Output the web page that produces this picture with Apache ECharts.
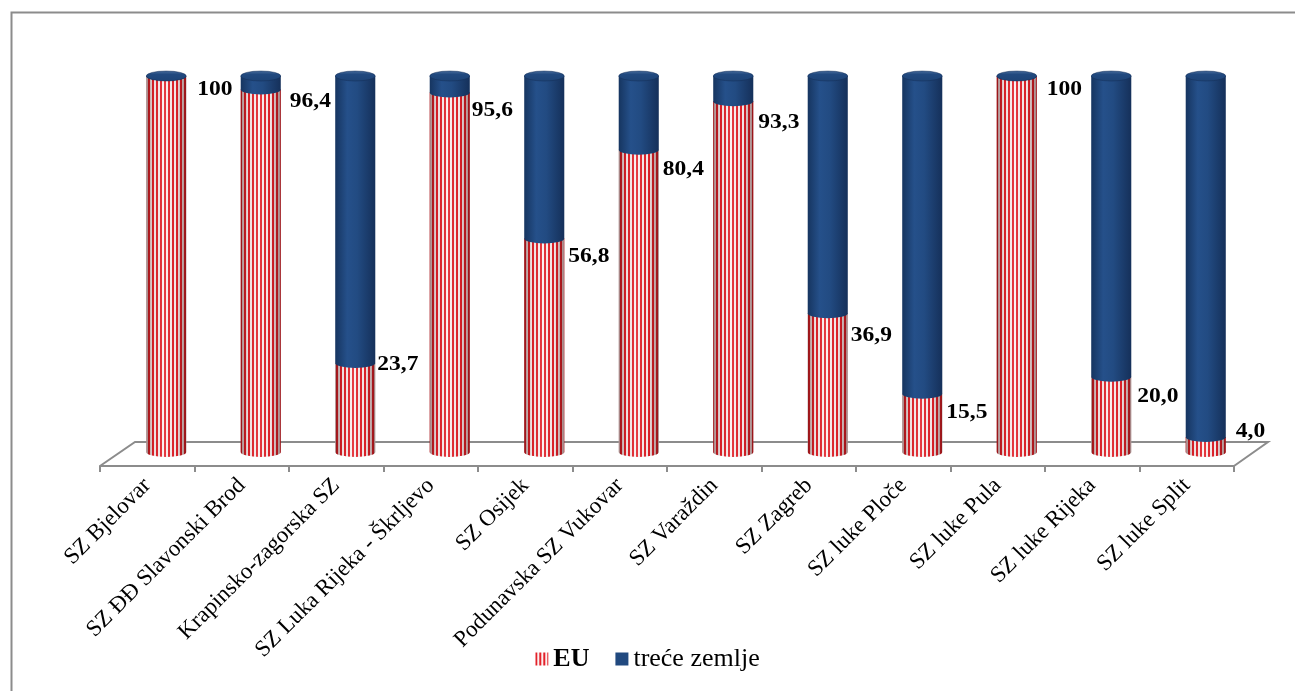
<!DOCTYPE html>
<html>
<head>
<meta charset="utf-8">
<script src="https://cdn.jsdelivr.net/npm/echarts@6/dist/echarts.min.js"></script>
<style>
html,body{margin:0;padding:0;background:#fff;}
#chart{width:1295px;height:691px;}
</style>
</head>
<body>
<div id="chart"></div>
<script>
// ---- data ----
var categories = ['SZ Bjelovar','SZ ĐĐ Slavonski Brod','Krapinsko-zagorska SZ','SZ Luka Rijeka - Škrljevo','SZ Osijek','Podunavska SZ Vukovar','SZ Varaždin','SZ Zagreb','SZ luke Ploče','SZ luke Pula','SZ luke Rijeka','SZ luke Split'];
var euValues = [100, 96.4, 23.7, 95.6, 56.8, 80.4, 93.3, 36.9, 15.5, 100, 20.0, 4.0];
var treceValues = [0, 3.6, 76.3, 4.4, 43.2, 19.6, 6.7, 63.1, 84.5, 0, 80.0, 96.0];
var seriesNames = ['EU', 'treće zemlje'];

// ---- label placement tweaks (style only) ----
var labelDx = [31, 29, 22, 22, 24, 24, 25, 23, 24, 30, 26, 30];
var labelDy = [14, 12, 2, 18, 18, 20, 21, 22, 19, 14, 20, -5];

// striped pattern for EU
function makeStripes(){
  var c = document.createElement('canvas');
  c.width = 4; c.height = 4;
  var ctx = c.getContext('2d');
  ctx.fillStyle = '#fbf1f1'; ctx.fillRect(0,0,4,4);
  ctx.fillStyle = '#e3222a'; ctx.fillRect(0,0,2,4);
  return c;
}
var stripeCanvas = makeStripes();
var stripePattern = {image: stripeCanvas, repeat: 'repeat'};

function fmt(v){ return v === 100 ? '100' : v.toFixed(1).replace('.', ','); }

function bodyPath(cx, topY, botY, rx, ry){
  var l = cx - rx, r = cx + rx;
  return 'M' + l + ' ' + topY + ' L' + l + ' ' + botY +
    ' A' + rx + ' ' + ry + ' 0 0 0 ' + r + ' ' + botY +
    ' L' + r + ' ' + topY + ' Z';
}
function ellipsePath(cx, cy, rx, ry){
  return 'M' + (cx - rx) + ' ' + cy +
    ' A' + rx + ' ' + ry + ' 0 0 0 ' + (cx + rx) + ' ' + cy +
    ' A' + rx + ' ' + ry + ' 0 0 0 ' + (cx - rx) + ' ' + cy + ' Z';
}

var shadeRed = {type:'linear', x:0, y:0, x2:1, y2:0, colorStops:[
  {offset:0, color:'rgba(70,10,10,0.5)'},
  {offset:0.18, color:'rgba(60,0,0,0.08)'},
  {offset:0.45, color:'rgba(255,255,255,0.12)'},
  {offset:0.75, color:'rgba(60,0,0,0.05)'},
  {offset:1, color:'rgba(70,10,10,0.5)'}
]};
var blueBody = {type:'linear', x:0, y:0, x2:1, y2:0, colorStops:[
  {offset:0, color:'#163560'},
  {offset:0.3, color:'#25508a'},
  {offset:0.55, color:'#224b82'},
  {offset:1, color:'#15305a'}
]};
var blueCap = {type:'linear', x:0, y:0, x2:0, y2:1, colorStops:[
  {offset:0, color:'#4a6f9e'},
  {offset:0.35, color:'#21497f'},
  {offset:1, color:'#1d4375'}
]};

var euData = categories.map(function(c, i){ return [i, euValues[i]]; });
var treceData = categories.map(function(c, i){ return [i, euValues[i], euValues[i] + treceValues[i]]; });

function renderEU(params, api){
  var i = api.value(0);
  var base = api.coord([i, 0]);
  var split = api.coord([i, api.value(1)]);
  var band = api.size([1, 0])[0];
  var rx = band * 0.212, ry = 5;
  var cx = base[0];
  var d = bodyPath(cx, split[1], base[1], rx, ry);
  return {
    type: 'group',
    children: [
      {type:'path', shape:{pathData:d}, style:{fill: stripePattern}},
      {type:'path', shape:{pathData:d}, style:{fill: shadeRed}},
      {type:'text', x: cx + labelDx[i], y: split[1] + labelDy[i], scaleX: 1.12,
        style:{text: fmt(api.value(1)), font:'bold 21px "Liberation Serif", "Times New Roman", serif',
          fill:'#000', align:'left', verticalAlign:'middle'}, z2: 10}
    ]
  };
}

function renderTrece(params, api){
  var i = api.value(0);
  var split = api.coord([i, api.value(1)]);
  var top = api.coord([i, api.value(2)]);
  var band = api.size([1, 0])[0];
  var rx = band * 0.212, ry = 5;
  var cx = split[0];
  return {
    type: 'group',
    children: [
      {type:'path', shape:{pathData: bodyPath(cx, top[1], split[1], rx, ry)}, style:{fill: blueBody}},
      {type:'path', shape:{pathData: ellipsePath(cx, top[1], rx, ry)}, style:{fill: blueCap, stroke:'rgba(20,45,85,0.6)', lineWidth:0.8}}
    ]
  };
}

function renderFloor(params, api){
  if (params.dataIndex !== 0) return null;
  var cs = params.coordSys;
  var baseY = cs.y + cs.height;
  var backY = baseY - 10, frontY = baseY + 14;
  var pts = [
    [cs.x - 19, frontY],
    [cs.x + 16, backY],
    [cs.x + cs.width + 15, backY],
    [cs.x + cs.width - 19, frontY]
  ];
  return {type:'polyline', shape:{points: pts}, style:{stroke:'#8c8c8c', lineWidth:2, fill:null}, z2: 0};
}

var serif = '"Liberation Serif", "Times New Roman", serif';
var chart = echarts.init(document.getElementById('chart'), null, {renderer:'canvas'});
chart.setOption({
  animation: false,
  backgroundColor: '#fff',
  graphic: [{
    type:'rect', left: 9, top: 10, z: -10,
    shape:{width: 1300, height: 700},
    style:{fill:'none', stroke:'#8c8c8c', lineWidth:2}
  }],
  grid: [
    {left: 119, top: 76, width: 1134, height: 376},
    {left: 100, top: 76, width: 1134, height: 390}
  ],
  xAxis: [
    {type:'category', gridIndex:0, data: categories, show:false, boundaryGap:true},
    {type:'category', gridIndex:1, data: categories, boundaryGap:true,
     axisLine:{show:true, lineStyle:{color:'#8c8c8c', width:2}},
     axisTick:{show:true, length:6, lineStyle:{color:'#8c8c8c', width:2}},
     axisLabel:{interval:0, rotate:45, margin:16, color:'#000', fontSize:23, fontFamily: serif}}
  ],
  yAxis: [
    {type:'value', gridIndex:0, min:0, max:100, show:false},
    {type:'value', gridIndex:1, min:0, max:100, show:false}
  ],
  legend: {
    bottom: 14, left: 'center', itemWidth: 13, itemHeight: 13, itemGap: 26,
    icon: 'rect',
    data: seriesNames,
    formatter: function(n){ return n === 'EU' ? '{b|EU}' : n; },
    textStyle: {
      fontFamily: serif, fontSize: 26, color:'#000',
      rich: {
        b: {fontWeight:'bold', fontSize:26, fontFamily: serif, color:'#000'}
      }
    }
  },
  series: [
    {type:'custom', name:'floor', xAxisIndex:0, yAxisIndex:0, renderItem: renderFloor,
     data: [[0, 0]], silent:true, z:1},
    {type:'custom', name: seriesNames[0], xAxisIndex:0, yAxisIndex:0, renderItem: renderEU,
     data: euData, encode:{x:0, y:1}, itemStyle:{color: stripePattern}, z:2},
    {type:'custom', name: seriesNames[1], xAxisIndex:0, yAxisIndex:0, renderItem: renderTrece,
     data: treceData, encode:{x:0, y:[1,2]}, itemStyle:{color:'#21497f'}, z:3}
  ]
});
</script>
</body>
</html>
